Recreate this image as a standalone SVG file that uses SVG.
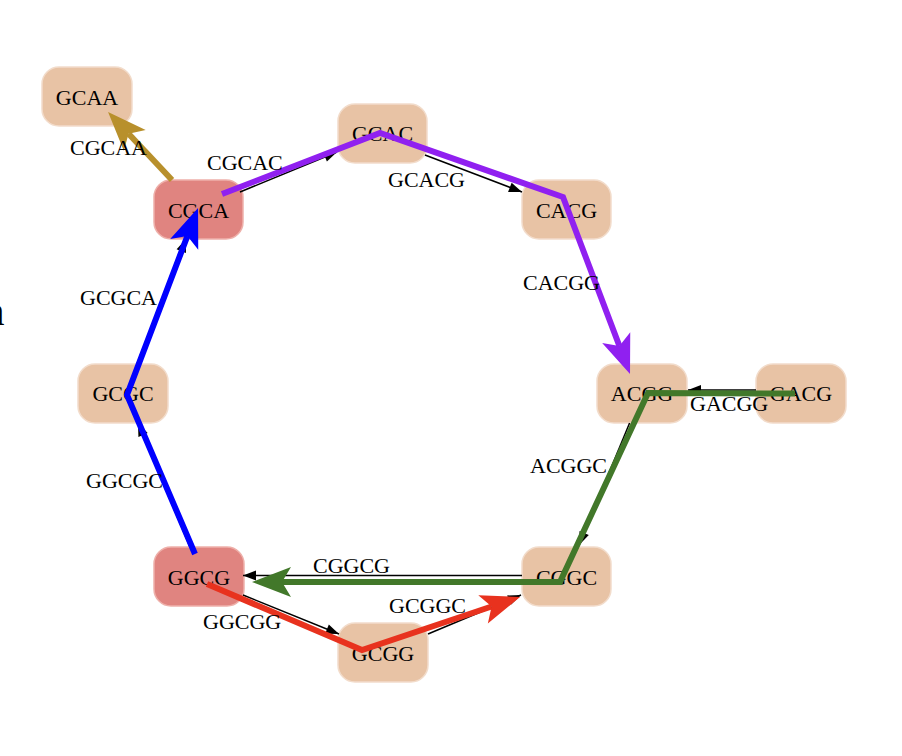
<svg xmlns="http://www.w3.org/2000/svg" width="902" height="756" viewBox="0 0 902 756">
<style>
  .node rect { fill: #e8c3a5; stroke: #f2dccb; stroke-width: 1.5; }
  .node.hl rect { fill: #e08480; stroke: #eeb0aa; }
  text { font-family: "Liberation Serif", "Times New Roman", serif; font-size: 22px; fill: #000; }
  .node text { text-anchor: middle; }
  .edge { stroke: #000; stroke-width: 1.5; fill: none; marker-end: url(#arr); }
  .path { fill: none; stroke-width: 6; stroke-linejoin: miter; }
</style>
<defs>
  <marker id="arr" viewBox="-1 -6 15 12" refX="13" refY="0" markerWidth="15" markerHeight="12" markerUnits="userSpaceOnUse" orient="auto">
    <path d="M0,-5 L13,0 L0,5 Z" fill="#000"/>
  </marker>
  <marker id="vPurple" viewBox="-12 -17 44 34" refX="0" refY="0" markerWidth="44" markerHeight="34" markerUnits="userSpaceOnUse" orient="auto">
    <path d="M30,0 L-9,-15 L0,0 L-9,15 Z" fill="#9020f0"/>
  </marker>
  <marker id="vGreen" viewBox="-12 -17 44 34" refX="0" refY="0" markerWidth="44" markerHeight="34" markerUnits="userSpaceOnUse" orient="auto">
    <path d="M30,0 L-9,-15 L0,0 L-9,15 Z" fill="#42782a"/>
  </marker>
  <marker id="vRed" viewBox="-12 -17 44 34" refX="0" refY="0" markerWidth="44" markerHeight="34" markerUnits="userSpaceOnUse" orient="auto">
    <path d="M30,0 L-9,-15 L0,0 L-9,15 Z" fill="#e8321e"/>
  </marker>
  <marker id="vBlue" viewBox="-12 -17 44 34" refX="0" refY="0" markerWidth="44" markerHeight="34" markerUnits="userSpaceOnUse" orient="auto">
    <path d="M30,0 L-9,-15 L0,0 L-9,15 Z" fill="#0000ff"/>
  </marker>
  <marker id="vGold" viewBox="-12 -17 44 34" refX="0" refY="0" markerWidth="44" markerHeight="34" markerUnits="userSpaceOnUse" orient="auto">
    <path d="M30,0 L-9,-15 L0,0 L-9,15 Z" fill="#b8902c"/>
  </marker>
</defs>
<rect width="902" height="756" fill="#fff"/>
<text x="-15.5" y="325" style="font-size:40px">n</text>

<g id="nodes">
  <g id="GCAA" class="node"><rect x="42" y="67" width="90" height="59" rx="17"/><text x="87" y="104.5">GCAA</text></g>
  <g id="CGCA" class="node hl"><rect x="154" y="180" width="89" height="59" rx="17"/><text x="198.5" y="217.5">CGCA</text></g>
  <g id="GCAC" class="node"><rect x="338" y="104" width="89" height="59" rx="17"/><text x="382.5" y="141">GCAC</text></g>
  <g id="CACG" class="node"><rect x="522" y="180" width="89" height="59" rx="17"/><text x="566.5" y="217.5">CACG</text></g>
  <g id="ACGG" class="node"><rect x="597" y="364" width="90" height="59" rx="17"/><text x="642" y="401">ACGG</text></g>
  <g id="GACG" class="node"><rect x="756" y="364" width="90" height="59" rx="17"/><text x="801" y="401">GACG</text></g>
  <g id="CGGC" class="node"><rect x="522" y="547" width="89" height="59" rx="17"/><text x="566.5" y="584.5">CGGC</text></g>
  <g id="GCGG" class="node"><rect x="338" y="623" width="90" height="59" rx="17"/><text x="383" y="660.5">GCGG</text></g>
  <g id="GGCG" class="node hl"><rect x="154" y="547" width="90" height="59" rx="17"/><text x="199" y="584.5">GGCG</text></g>
  <g id="GCGC" class="node"><rect x="78" y="364" width="90" height="59" rx="17"/><text x="123" y="401">GCGC</text></g>
</g>

<g id="connectors">
  <line class="edge" x1="240" y1="192" x2="337" y2="152"/>
  <line class="edge" x1="425" y1="155" x2="522" y2="192"/>
  <line class="edge" x1="756" y1="390" x2="688" y2="390"/>
  <line class="edge" x1="629.6" y1="423" x2="579.2" y2="545"/>
  <line class="edge" x1="522" y1="575.5" x2="243" y2="575.5"/>
  <line class="edge" x1="243" y1="595" x2="339" y2="634"/>
  <line class="edge" x1="428" y1="634" x2="521" y2="595"/>
  <line class="edge" x1="190" y1="547" x2="138" y2="423"/>
  <line class="edge" x1="137" y1="364" x2="186" y2="239"/>

  <polyline class="path" stroke="#b8902c" points="172,180 128.6,133.8" marker-end="url(#vGold)"/>
  <polyline class="path" stroke="#9020f0" points="222,194 380,133 563,197 619.4,346" marker-end="url(#vPurple)"/>
  <polyline class="path" stroke="#42782a" points="795,393.5 648,393 560,582 282,582" marker-end="url(#vGreen)"/>
  <polyline class="path" stroke="#e8321e" points="207,584 362,650 491.6,606.5" marker-end="url(#vRed)"/>
  <polyline class="path" stroke="#0000ff" points="195,554 127,395 187.4,236" marker-end="url(#vBlue)"/>
</g>

<g id="labels">
  <text x="70" y="155">CGCAA</text>
  <text x="207" y="170">CGCAC</text>
  <text x="388" y="187">GCACG</text>
  <text x="523" y="290">CACGG</text>
  <text x="690" y="411">GACGG</text>
  <text x="530" y="473">ACGGC</text>
  <text x="313" y="573">CGGCG</text>
  <text x="389" y="613">GCGGC</text>
  <text x="203" y="629">GGCGG</text>
  <text x="86" y="488">GGCGC</text>
  <text x="80" y="305">GCGCA</text>
</g>
</svg>
